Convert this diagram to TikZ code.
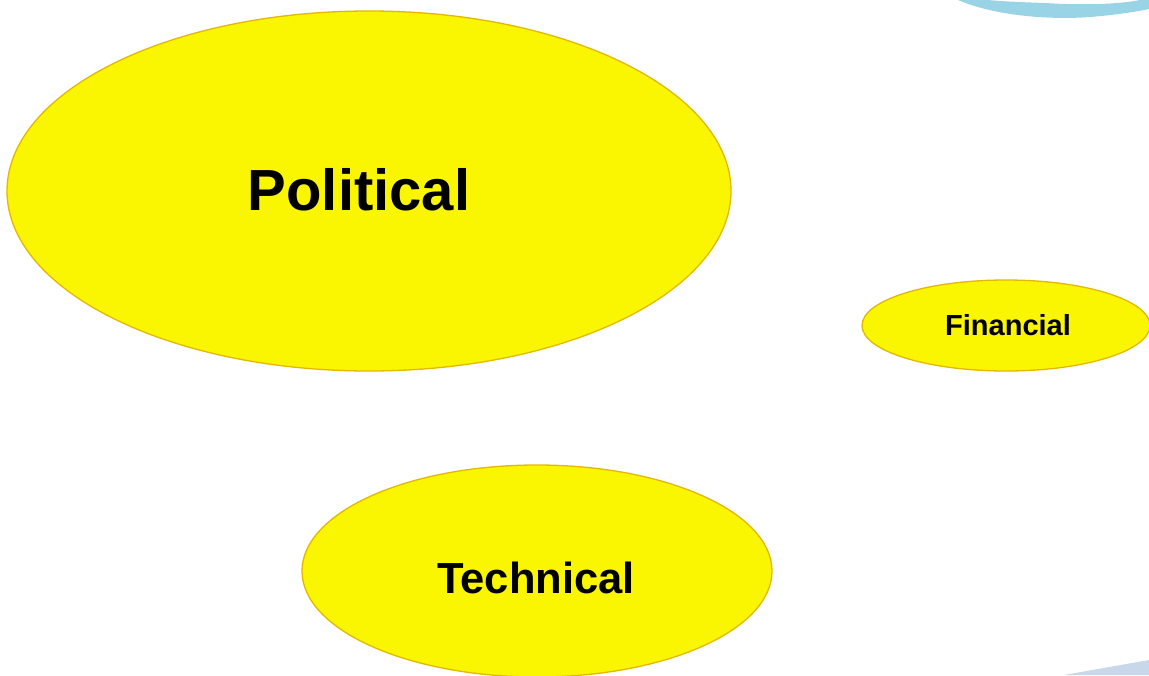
\documentclass[tikz,border=0pt]{standalone}
\usepackage{fontspec}
\setmainfont{Liberation Sans}
\usetikzlibrary{shapes.geometric}
\definecolor{fillyel}{HTML}{FAF500}
\definecolor{edgeyel}{HTML}{E2B800}
\definecolor{arcblue}{HTML}{98D4E5}
\definecolor{wedgeblue}{HTML}{C8D8EA}
\tikzset{
  oval/.style={ellipse, draw=edgeyel, fill=fillyel, line width=1.3pt, inner sep=0pt},
  lbl/.style={anchor=base, inner sep=0pt, font=\bfseries}
}
\begin{document}
\begin{tikzpicture}[x=1pt,y=-1pt]
\useasboundingbox (0,0) rectangle (1149,675);
% decorative blue crescent top-right
\fill[arcblue] (958,0) .. controls (995,16) and (1050,20) .. (1090,17)
  .. controls (1115,15) and (1135,12) .. (1149,9) -- (1149,0) -- (1140,0)
  .. controls (1115,5) and (1075,5) .. (1045,3)
  .. controls (1015,2) and (998,1) .. (988,0) -- cycle;
% bottom-right wedge
\fill[wedgeblue] (1064,675) -- (1149,660) -- (1149,675) -- cycle;
% ellipses
\node[oval, minimum width=724pt, minimum height=360pt] (pol) at (369,191) {};
\node[oval, minimum width=288pt, minimum height=91pt] (fin) at (1006,325.5) {};
\node[oval, minimum width=470pt, minimum height=212pt] (tec) at (537,571) {};
% labels
\node[lbl, font=\bfseries\fontsize{58}{60}\selectfont] (poltxt) at (359,210) {Political};
\node[lbl, font=\bfseries\fontsize{29}{31}\selectfont] (fintxt) at (1008,335) {Financial};
\node[lbl, font=\bfseries\fontsize{43.5}{45}\selectfont] (tectxt) at (536,593) {Technical};
\end{tikzpicture}
\end{document}
